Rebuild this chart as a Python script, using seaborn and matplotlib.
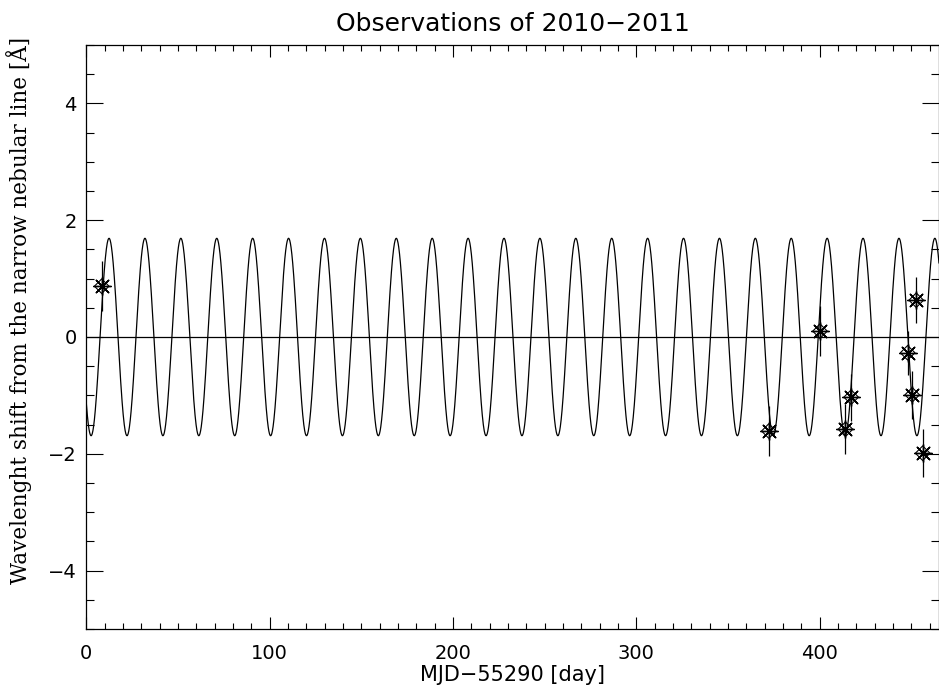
import numpy as np
import pandas as pd
import matplotlib
matplotlib.use("Agg")
import matplotlib.pyplot as plt
import seaborn as sns
from matplotlib.ticker import MultipleLocator

# Observations (MJD-55290, wavelength shift, error)
obs_day = [8.4, 372.2, 400.1, 414.0, 417.1, 447.9, 450.4, 452.6, 456.1]
obs_shift = [0.87, -1.61, 0.10, -1.58, -1.03, -0.27, -0.99, 0.63, -1.99]
obs_err = [0.43, 0.43, 0.43, 0.43, 0.40, 0.38, 0.41, 0.39, 0.41]

# Fitted orbital model parameters
model_amplitude = 1.69
model_period = 19.58
model_peak_day = 12.4
model_days = np.linspace(0, 465, 4000)
model_shift = model_amplitude * np.cos(2 * np.pi * (model_days - model_peak_day) / model_period)

title = "Observations of 2010\u22122011"
xlabel = "MJD\u221255290 [day]"
ylabel = "Wavelenght shift from the narrow nebular line [\u00c5]"

sns.set_theme(style="ticks")
plt.rcParams['font.family'] = ['DejaVu Sans']
plt.rcParams['text.color'] = 'black'
plt.rcParams['axes.labelcolor'] = 'black'
plt.rcParams['xtick.color'] = 'black'
plt.rcParams['ytick.color'] = 'black'

fig = plt.figure(figsize=(9.39, 6.91), dpi=100)
ax = fig.add_axes([86.3 / 939, 62 / 691, (939 - 86.3) / 939, (629 - 45) / 691])

df_model = pd.DataFrame({"day": model_days, "shift": model_shift})
sns.lineplot(data=df_model, x="day", y="shift", color="black", lw=0.9, ax=ax)
ax.axhline(0, color="black", lw=0.9)

df_obs = pd.DataFrame({"day": obs_day, "shift": obs_shift, "err": obs_err})
ax.errorbar(df_obs["day"], df_obs["shift"], yerr=df_obs["err"], fmt="none",
            ecolor="black", elinewidth=0.9, capsize=0, zorder=3)
sns.scatterplot(data=df_obs, x="day", y="shift", marker=(8, 2, 0), s=160,
                color="black", linewidth=1.0, ax=ax, zorder=4)
sns.scatterplot(data=df_obs, x="day", y="shift", marker="D", s=55,
                facecolor="none", edgecolor="black", linewidth=0.8, ax=ax, zorder=4)

ax.set_xlim(0, 465)
ax.set_ylim(-5, 5)
ax.xaxis.set_major_locator(MultipleLocator(100))
ax.xaxis.set_minor_locator(MultipleLocator(10))
ax.yaxis.set_major_locator(MultipleLocator(2))
ax.yaxis.set_minor_locator(MultipleLocator(0.5))

ax.tick_params(axis="x", which="major", direction="in", length=8.4, width=0.8,
               top=True, bottom=True, labelsize=14, pad=11)
ax.tick_params(axis="x", which="minor", direction="in", length=4.2, width=0.8,
               top=True, bottom=True)
ax.tick_params(axis="y", which="major", direction="in", length=12.2, width=0.8,
               left=True, right=True, labelsize=14, pad=7)
ax.tick_params(axis="y", which="minor", direction="in", length=6.1, width=0.8,
               left=True, right=True)
for sp in ax.spines.values():
    sp.set_linewidth(0.9)
    sp.set_color("black")

ax.set_title(title, fontsize=18, pad=10)
ax.set_xlabel(xlabel, fontsize=15, labelpad=1)
ax.set_ylabel(ylabel, fontsize=15.5, family="DejaVu Serif")
ax.yaxis.set_label_coords(-0.064, 0.546)

fig.savefig("out.png", dpi=100)
